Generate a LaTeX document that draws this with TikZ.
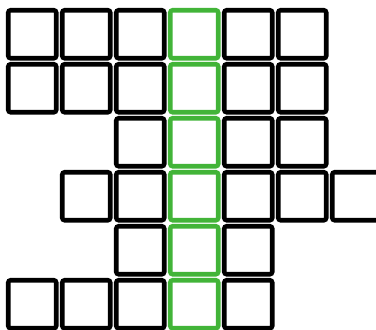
\documentclass[tikz,border=0pt]{standalone}
\begin{document}
\begin{tikzpicture}[x=1pt,y=-1pt,
  cell/.style={draw=black,line width=4.6pt,rounded corners=2.5pt,minimum size=48pt,inner sep=0pt,fill=white},
  greencell/.style={cell,draw=cellgreen}]
\definecolor{cellgreen}{RGB}{66,180,56}
\useasboundingbox (0,0) rectangle (376,330);
\fill[white] (0,0) rectangle (376,330);
% row: list of black columns
\foreach \r/\cols in {0/{0,1,2,4,5},1/{0,1,2,4,5},2/{2,4,5},3/{1,2,4,5,6},4/{2,4},5/{0,1,2,4}}{
  \foreach \c in \cols {
    \node[cell] (b\r\c) at (32.25+54*\c, 34.25+54*\r) {};
  }
  \node[greencell] (g\r) at (32.25+54*3, 34.25+54*\r) {};
}
\end{tikzpicture}
\end{document}
